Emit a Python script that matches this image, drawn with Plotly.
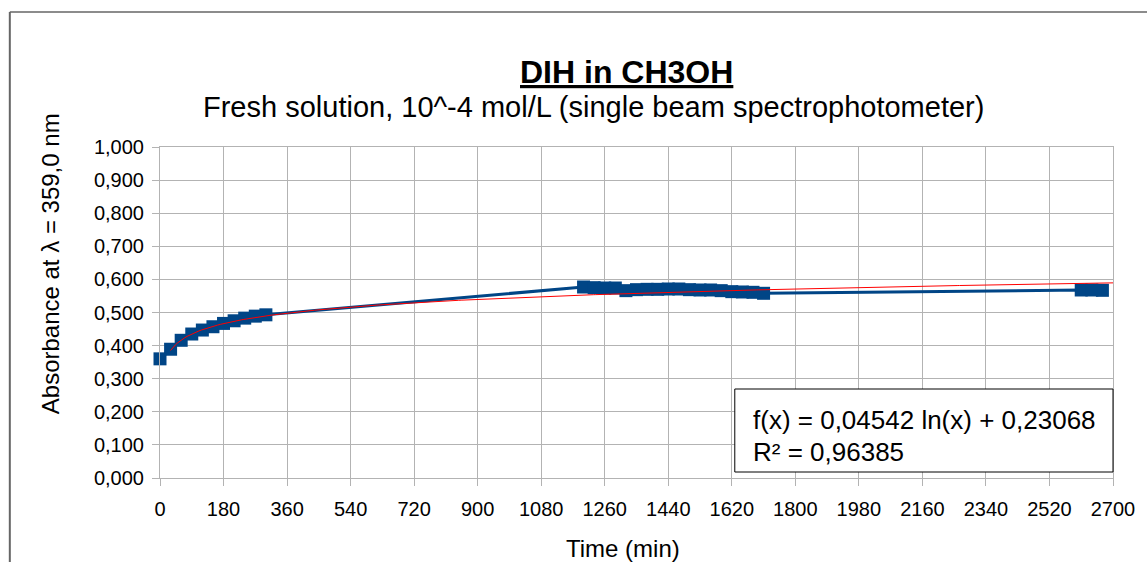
import numpy as np
import plotly.graph_objects as go

# Data
time_min = [0, 30, 60, 90, 120, 150, 180, 210, 240, 270, 300,
            1200, 1230, 1260, 1290, 1320, 1350, 1380, 1410, 1440, 1470,
            1500, 1530, 1560, 1590, 1620, 1650, 1680, 1710,
            2610, 2640, 2670]
absorbance = [0.360, 0.389, 0.416, 0.435, 0.447, 0.457, 0.467, 0.475, 0.483, 0.489, 0.493,
              0.577, 0.575, 0.574, 0.574, 0.566, 0.569, 0.570, 0.570, 0.571, 0.571,
              0.569, 0.568, 0.568, 0.566, 0.563, 0.562, 0.561, 0.558,
              0.568, 0.568, 0.567]

fit_a = 0.04542
fit_b = 0.23068
r_squared = 0.96385

title_text = "DIH in CH3OH"
subtitle_text = "Fresh solution, 10^-4 mol/L (single beam spectrophotometer)"
x_title = "Time (min)"
y_title = "Absorbance at λ = 359,0 nm"

fit_x = np.linspace(30, 2700, 400)
fit_y = fit_a * np.log(fit_x) + fit_b

FONT = "Liberation Sans, Arial, sans-serif"
blue = "#004586"

fig = go.Figure()
fig.add_trace(go.Scatter(
    x=time_min, y=absorbance, mode="lines+markers",
    line=dict(color=blue, width=3),
    marker=dict(symbol="square", size=13, color=blue),
    cliponaxis=False,
    showlegend=False, hoverinfo="x+y"))
fig.add_trace(go.Scatter(
    x=fit_x, y=fit_y, mode="lines",
    line=dict(color="#ff0000", width=1),
    showlegend=False, hoverinfo="skip"))

L, R, T, B = 160, 32, 147, 84
W, H = 1147, 562
pw, ph = W - L - R, H - T - B

def px(xp):
    return (xp - L) / pw

def py(yp):
    return (H - B - yp) / ph

fig.update_layout(
    width=W, height=H,
    margin=dict(l=L, r=R, t=T, b=B),
    paper_bgcolor="white", plot_bgcolor="white",
    separators=",.",
    font=dict(family=FONT, color="#000000", size=20),
    xaxis=dict(range=[0, 2700], tickmode="linear", tick0=0, dtick=180,
               tickformat="d", showgrid=True, gridcolor="#b3b3b3", gridwidth=1,
               zeroline=False, showline=True, linecolor="#b3b3b3", mirror=True,
               ticks="outside", ticklen=7, tickcolor="#b3b3b3",
               ticklabelstandoff=6,
               tickfont=dict(size=20)),
    yaxis=dict(range=[0, 1], tickmode="linear", tick0=0, dtick=0.1,
               tickformat=".3f", showgrid=True, gridcolor="#b3b3b3", gridwidth=1,
               zeroline=False, showline=True, linecolor="#b3b3b3", mirror=True,
               ticks="outside", ticklen=7, tickcolor="#b3b3b3",
               ticklabelstandoff=4,
               tickfont=dict(size=20)),
    shapes=[
        dict(type="line", xref="paper", yref="paper",
             x0=px(9.5), y0=py(12), x1=px(1160), y1=py(12),
             line=dict(color="#666666", width=1.5)),
        dict(type="line", xref="paper", yref="paper",
             x0=px(9.5), y0=py(12), x1=px(9.5), y1=py(575),
             line=dict(color="#666666", width=2)),
        dict(type="rect", xref="paper", yref="paper",
             x0=px(736), y0=py(472), x1=px(1115), y1=py(389),
             line=dict(color="#000000", width=1), fillcolor="white"),
    ],
    annotations=[
        dict(text="<b><u>" + title_text + "</u></b>", xref="paper", yref="paper",
             x=px(627), y=py(72), xanchor="center", yanchor="middle",
             showarrow=False, font=dict(size=32, family=FONT)),
        dict(text=subtitle_text, xref="paper", yref="paper",
             x=px(594), y=py(107), xanchor="center", yanchor="middle",
             showarrow=False, font=dict(size=29, family=FONT)),
        dict(text=x_title, xref="paper", yref="paper",
             x=px(624), y=py(548), xanchor="center", yanchor="middle",
             showarrow=False, font=dict(size=24, family=FONT)),
        dict(text=y_title, xref="paper", yref="paper",
             x=px(50), y=py(264), xanchor="center", yanchor="middle",
             textangle=-90, showarrow=False, font=dict(size=24, family=FONT)),
        dict(text="f(x) = " + f"{fit_a:.5f}".replace(".", ",") + " ln(x) + "
             + f"{fit_b:.5f}".replace(".", ","),
             xref="paper", yref="paper", x=px(752), y=py(420),
             xanchor="left", yanchor="middle", showarrow=False,
             font=dict(size=26, family=FONT)),
        dict(text="R² = " + f"{r_squared:.5f}".replace(".", ","),
             xref="paper", yref="paper", x=px(752), y=py(452),
             xanchor="left", yanchor="middle", showarrow=False,
             font=dict(size=26, family=FONT)),
    ],
)

fig.write_html("out.html")
